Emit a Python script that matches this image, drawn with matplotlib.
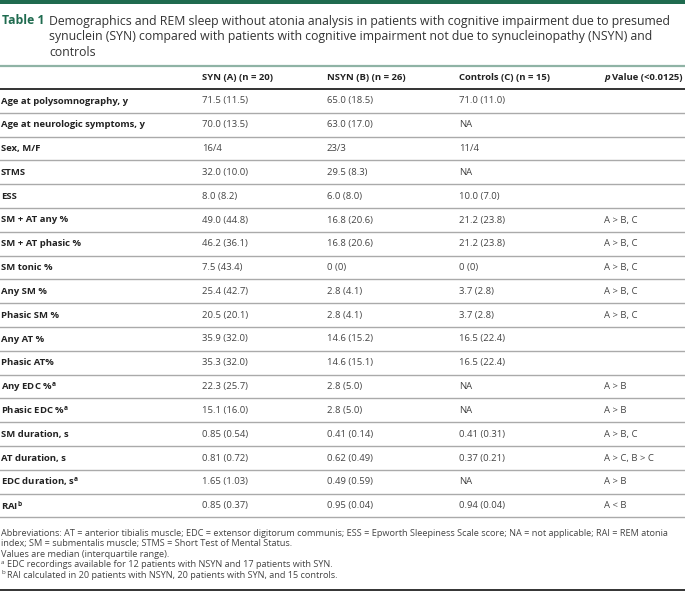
import matplotlib
matplotlib.use("Agg")
import matplotlib.pyplot as plt

plt.rcParams["font.family"] = ["Open Sans", "DejaVu Sans"]

W, H = 685, 594
GREEN = "#1f6b4f"
TEXT = "#222222"
BODY = "#444444"

title_lines = [
    "Demographics and REM sleep without atonia analysis in patients with cognitive impairment due to presumed",
    "synuclein (SYN) compared with patients with cognitive impairment not due to synucleinopathy (NSYN) and",
    "controls",
]

col_headers = ["SYN (A) (n = 20)", "NSYN (B) (n = 26)", "Controls (C) (n = 15)"]

row_labels = [
    "Age at polysomnography, y", "Age at neurologic symptoms, y", "Sex, M/F", "STMS", "ESS",
    "SM + AT any %", "SM + AT phasic %", "SM tonic %", "Any SM %", "Phasic SM %",
    "Any AT %", "Phasic AT%", "Any EDC %$^\\mathregular{a}$", "Phasic EDC %$^\\mathregular{a}$",
    "SM duration, s", "AT duration, s", "EDC duration, s$^\\mathregular{a}$", "RAI$^\\mathregular{b}$",
]
syn = ["71.5 (11.5)", "70.0 (13.5)", "16/4", "32.0 (10.0)", "8.0 (8.2)", "49.0 (44.8)",
       "46.2 (36.1)", "7.5 (43.4)", "25.4 (42.7)", "20.5 (20.1)", "35.9 (32.0)", "35.3 (32.0)",
       "22.3 (25.7)", "15.1 (16.0)", "0.85 (0.54)", "0.81 (0.72)", "1.65 (1.03)", "0.85 (0.37)"]
nsyn = ["65.0 (18.5)", "63.0 (17.0)", "23/3", "29.5 (8.3)", "6.0 (8.0)", "16.8 (20.6)",
        "16.8 (20.6)", "0 (0)", "2.8 (4.1)", "2.8 (4.1)", "14.6 (15.2)", "14.6 (15.1)",
        "2.8 (5.0)", "2.8 (5.0)", "0.41 (0.14)", "0.62 (0.49)", "0.49 (0.59)", "0.95 (0.04)"]
controls = ["71.0 (11.0)", "NA", "11/4", "NA", "10.0 (7.0)", "21.2 (23.8)", "21.2 (23.8)",
            "0 (0)", "3.7 (2.8)", "3.7 (2.8)", "16.5 (22.4)", "16.5 (22.4)", "NA", "NA",
            "0.41 (0.31)", "0.37 (0.21)", "NA", "0.94 (0.04)"]
p_values = ["", "", "", "", "", "A > B, C", "A > B, C", "A > B, C", "A > B, C", "A > B, C",
            "", "", "A > B", "A > B", "A > B, C", "A > C, B > C", "A > B", "A < B"]

# (superscript mark, text)
footnotes = [
    ("", "Abbreviations: AT = anterior tibialis muscle; EDC = extensor digitorum communis; ESS = Epworth Sleepiness Scale score; NA = not applicable; RAI = REM atonia"),
    ("", "index; SM = submentalis muscle; STMS = Short Test of Mental Status."),
    ("", "Values are median (interquartile range)."),
    ("a", "EDC recordings available for 12 patients with NSYN and 17 patients with SYN."),
    ("b", "RAI calculated in 20 patients with NSYN, 20 patients with SYN, and 15 controls."),
]

fig = plt.figure(figsize=(W / 100, H / 100), dpi=100)
ax = fig.add_axes([0, 0, 1, 1])
ax.set_xlim(0, W)
ax.set_ylim(H, 0)
ax.axis("off")

# top bar
ax.axhspan(0, 3.5, color=GREEN, lw=0)

# title
ax.text(2.5, 21, "Table 1", color=GREEN, fontsize=8.8, fontweight="bold", va="center")
for i, line in enumerate(title_lines):
    ax.text(49, 21 + i * 15.5, line, color="#333333", fontsize=8.85, va="center")
ax.axhline(65.7, color="#8fb3a5", lw=1.6)

# header
col_x = [202, 327, 459, 604]
for x, h in zip(col_x, col_headers):
    ax.text(x, 78, h, fontsize=6.8, fontweight="bold", color=TEXT, va="center")
p_txt = ax.text(col_x[3], 78, "p", fontsize=6.8, fontweight="bold", fontstyle="italic",
                color=TEXT, va="center")
fig.canvas.draw()
bb = p_txt.get_window_extent()
ax.text(col_x[3] + bb.width + 2.5, 78, "Value (<0.0125)", fontsize=6.8, fontweight="bold",
        color=TEXT, va="center")
ax.axhline(89, color="#333333", lw=1.4)

row_h = 23.8
y0 = 101
for i, lab in enumerate(row_labels):
    y = y0 + i * row_h
    ax.text(1, y, lab, fontsize=6.8, fontweight="bold", color=TEXT, va="center")
    for x, col in zip(col_x, [syn, nsyn, controls, p_values]):
        ax.text(x, y, col[i], fontsize=6.8, color=BODY, va="center")
    ax.axhline(y + 11.8, color="#aaaaaa", lw=1.0)

fy = 533
for i, (mark, f) in enumerate(footnotes):
    y = fy + i * 10.6
    if mark:
        ax.text(1, y - 2.5, mark, fontsize=4.5, color=BODY, va="center")
        ax.text(7, y, f, fontsize=6.6, color=BODY, va="center")
    else:
        ax.text(1, y, f, fontsize=6.6, color=BODY, va="center")
ax.axhline(590, color="#333333", lw=1.4)

fig.savefig("out.png", dpi=100)
